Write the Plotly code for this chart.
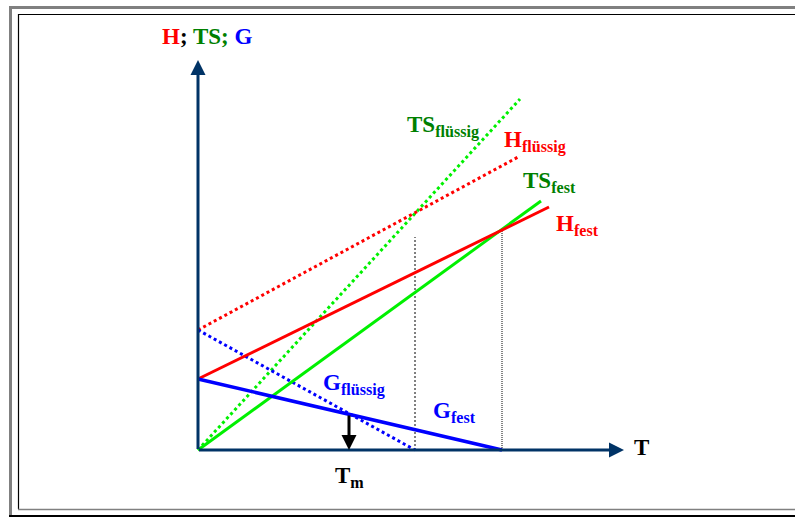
import plotly.graph_objects as go

# ---------------- data (T in arbitrary units, values in arbitrary units) ----------------
# straight lines given by their two end points (T, value)
TS_fluessig_T = [0.0, 32.2]
TS_fluessig_V = [0.0, 35.1]
H_fluessig_T = [0.0, 32.2]
H_fluessig_V = [12.0, 29.4]
TS_fest_T = [0.0, 34.3]
TS_fest_V = [0.0, 24.9]
H_fest_T = [0.0, 35.1]
H_fest_V = [7.1, 24.3]
G_fest_T = [0.0, 30.4]
G_fest_V = [7.1, 0.0]
G_fluessig_T = [0.0, 21.7]
G_fluessig_V = [12.0, 0.0]

# vertical helper lines (T, top value)
guide_T = [21.7, 30.4]
guide_top = [21.3, 22.0]

# melting temperature and G there
T_m = 15.1
G_at_Tm = 3.6

# axis extents
T_axis_max = 42.6
V_axis_max = 39.0

# ---------------- styles ----------------
RED = "#FF0000"
LGREEN = "#00F000"
DGREEN = "#008000"
BLUE = "#0000FF"
NAVY = "#003366"
FONT = "Liberation Serif"

W, H = 795, 517
X_RANGE = [-19.8, 59.7]
Y_RANGE = [-6.7, 45.0]

fig = go.Figure()

def line(xs, ys, color, dash="solid", width=3):
    fig.add_trace(go.Scatter(x=xs, y=ys, mode="lines",
                             line=dict(color=color, width=width, dash=dash),
                             hoverinfo="skip", showlegend=False))

# guide lines
line([guide_T[0], guide_T[0]], [0, guide_top[0]], "#000000", dash="2px,2px", width=1)
line([guide_T[1], guide_T[1]], [0, guide_top[1]], "#333333", dash="1px,1px", width=1.2)

# dotted (liquid)
line(TS_fluessig_T, TS_fluessig_V, LGREEN, dash="dot", width=3)
line(H_fluessig_T, H_fluessig_V, RED, dash="dot", width=3)
line(G_fluessig_T, G_fluessig_V, BLUE, dash="dot", width=3)
# solid (solid state)
line(TS_fest_T, TS_fest_V, LGREEN, width=3)
line(H_fest_T, H_fest_V, RED, width=3)
line(G_fest_T, G_fest_V, BLUE, width=3.5)

# axes lines drawn as arrows
ann = []
def arrow(x0, y0, x1, y1, color, width=3):
    ann.append(dict(x=x1, y=y1, ax=x0, ay=y0, xref="x", yref="y", axref="x", ayref="y",
                    text="", showarrow=True, arrowhead=2, arrowsize=1, arrowwidth=width,
                    arrowcolor=color, standoff=0, startstandoff=0))

arrow(0, -0.05, 0, V_axis_max, NAVY)
arrow(-0.05, 0, T_axis_max, 0, NAVY)
arrow(T_m, G_at_Tm, T_m, 0, "#000000")

def label(x, y, text, color="#000000", size=23):
    ann.append(dict(x=x, y=y, xref="x", yref="y", text=text, showarrow=False,
                    xanchor="left", yanchor="middle",
                    font=dict(family=FONT, size=size, color=color)))

label(-3.8, 41.4, '<b><span style="color:#FF0000">H</span>; '
      '<span style="color:#008000">TS;</span> '
      '<span style="color:#0000FF">G</span></b>')
label(20.7, 32.4, "<b>TS<sub>flüssig</sub></b>", DGREEN)
label(30.4, 30.9, "<b>H<sub>flüssig</sub></b>", RED)
label(32.3, 26.8, "<b>TS<sub>fest</sub></b>", DGREEN)
label(35.6, 22.5, "<b>H<sub>fest</sub></b>", RED)
label(12.3, 6.55, "<b>G<sub>flüssig</sub></b>", BLUE)
label(23.3, 3.8, "<b>G<sub>fest</sub></b>", BLUE)
label(43.4, 0.3, "<b>T</b>")
label(13.5, -2.7, "<b>T<sub>m</sub></b>")

# frame (3D ridge border) in paper coordinates
def px(x):
    return x / W

def py(y):
    return 1 - y / H

shapes = [
    dict(type="line", xref="paper", yref="paper", x0=px(10.5), x1=px(10.5), y0=py(6), y1=py(515),
         line=dict(color="#808080", width=3)),
    dict(type="line", xref="paper", yref="paper", x0=px(9), x1=px(800), y0=py(7.5), y1=py(7.5),
         line=dict(color="#808080", width=3)),
    dict(type="line", xref="paper", yref="paper", x0=px(9), x1=px(800), y0=py(516.5), y1=py(516.5),
         line=dict(color="#000000", width=3)),
    dict(type="line", xref="paper", yref="paper", x0=px(18.5), x1=px(18.5), y0=py(14), y1=py(509),
         line=dict(color="#000000", width=1.2)),
    dict(type="line", xref="paper", yref="paper", x0=px(18), x1=px(800), y0=py(14.5), y1=py(14.5),
         line=dict(color="#000000", width=1.2)),
    dict(type="line", xref="paper", yref="paper", x0=px(18), x1=px(800), y0=py(509.5), y1=py(509.5),
         line=dict(color="#808080", width=1.5)),
]

fig.update_layout(
    width=W, height=H, autosize=False,
    margin=dict(l=0, r=0, t=0, b=0, pad=0),
    paper_bgcolor="white", plot_bgcolor="white",
    xaxis=dict(range=X_RANGE, visible=False, fixedrange=True),
    yaxis=dict(range=Y_RANGE, visible=False, fixedrange=True),
    annotations=ann, shapes=shapes, showlegend=False,
)

fig.write_html("out.html", config={"displayModeBar": False},
               post_script="document.body.style.margin='0';document.body.style.overflow='hidden';")
